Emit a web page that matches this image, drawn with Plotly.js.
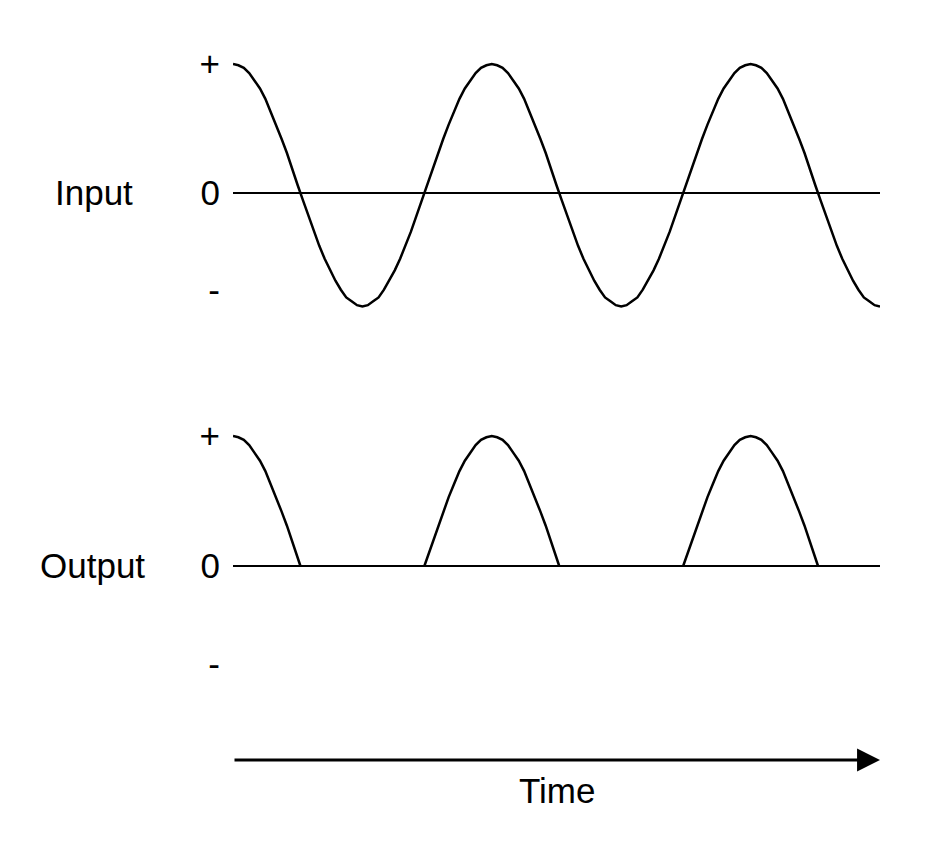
<!DOCTYPE html>
<html>
<head>
<meta charset="utf-8">
<script src="https://cdn.plot.ly/plotly-3.0.1.min.js"></script>
<style>html,body{margin:0;padding:0;background:#fff;}#chart{width:945px;height:841px;}</style>
</head>
<body>
<div id="chart"></div>
<script>
// Phase of the signal in degrees (one period = 360), sampled every 7.5 degrees
const inputTime = [0,7.5,15,22.5,30,37.5,45,52.5,60,67.5,75,82.5,90,97.5,105,112.5,120,127.5,135,142.5,150,157.5,165,172.5,180,
187.5,195,202.5,210,217.5,225,232.5,240,247.5,255,262.5,270,277.5,285,292.5,300,307.5,315,322.5,330,337.5,345,352.5,360,
367.5,375,382.5,390,397.5,405,412.5,420,427.5,435,442.5,450,457.5,465,472.5,480,487.5,495,502.5,510,517.5,525,532.5,540,
547.5,555,562.5,570,577.5,585,592.5,600,607.5,615,622.5,630,637.5,645,652.5,660,667.5,675,682.5,690,697.5,705,712.5,720,
727.5,735,742.5,750,757.5,765,772.5,780,787.5,795,802.5,810,817.5,825,832.5,840,847.5,855,862.5,870,877.5,885,892.5,900];
const inputValue = [1.00,0.99,0.97,0.93,0.87,0.81,0.73,0.63,0.53,0.42,0.31,0.18,0.06,-0.06,-0.18,-0.30,-0.41,-0.51,-0.60,-0.68,-0.75,-0.81,-0.84,-0.87,-0.88,
-0.87,-0.84,-0.81,-0.75,-0.68,-0.60,-0.51,-0.41,-0.30,-0.18,-0.06,0.06,0.18,0.31,0.42,0.53,0.63,0.73,0.81,0.87,0.93,0.97,0.99,1.00,
0.99,0.97,0.93,0.87,0.81,0.73,0.63,0.53,0.42,0.31,0.18,0.06,-0.06,-0.18,-0.30,-0.41,-0.51,-0.60,-0.68,-0.75,-0.81,-0.84,-0.87,-0.88,
-0.87,-0.84,-0.81,-0.75,-0.68,-0.60,-0.51,-0.41,-0.30,-0.18,-0.06,0.06,0.18,0.31,0.42,0.53,0.63,0.73,0.81,0.87,0.93,0.97,0.99,1.00,
0.99,0.97,0.93,0.87,0.81,0.73,0.63,0.53,0.42,0.31,0.18,0.06,-0.06,-0.18,-0.30,-0.41,-0.51,-0.60,-0.68,-0.75,-0.81,-0.84,-0.87,-0.88];
const outputTime = [0,7.5,15,22.5,30,37.5,45,52.5,60,67.5,75,82.5,90,93.8,null,
266.2,270,277.5,285,292.5,300,307.5,315,322.5,330,337.5,345,352.5,360,367.5,375,382.5,390,397.5,405,412.5,420,427.5,435,442.5,450,453.8,null,
626.2,630,637.5,645,652.5,660,667.5,675,682.5,690,697.5,705,712.5,720,727.5,735,742.5,750,757.5,765,772.5,780,787.5,795,802.5,810,813.8];
const outputValue = [1.00,0.99,0.97,0.93,0.87,0.81,0.73,0.63,0.53,0.42,0.31,0.18,0.06,0,null,
0,0.06,0.18,0.31,0.42,0.53,0.63,0.73,0.81,0.87,0.93,0.97,0.99,1.00,0.99,0.97,0.93,0.87,0.81,0.73,0.63,0.53,0.42,0.31,0.18,0.06,0,null,
0,0.06,0.18,0.31,0.42,0.53,0.63,0.73,0.81,0.87,0.93,0.97,0.99,1.00,0.99,0.97,0.93,0.87,0.81,0.73,0.63,0.53,0.42,0.31,0.18,0.06,0];
const levelValues = [1, 0, -0.75];
const levelLabels = ['+', '0', '-'];
const signalNames = ['Input', 'Output'];
const timeLabel = 'Time';

const FONT = 'Liberation Sans, Arial, sans-serif';

const traces = [
  {x: inputTime, y: inputValue, xaxis: 'x', yaxis: 'y', mode: 'lines',
   line: {color: '#000', width: 2.5, shape: 'linear'}, hoverinfo: 'skip'},
  {x: outputTime, y: outputValue, xaxis: 'x', yaxis: 'y2', mode: 'lines', connectgaps: false,
   line: {color: '#000', width: 2.5, shape: 'linear'}, hoverinfo: 'skip'}
];

const yCommon = {
  range: [-1.2, 1.2], showgrid: false, showline: false, ticks: '',
  tickvals: levelValues, ticktext: levelLabels, ticklabelstandoff: 12,
  tickfont: {family: FONT, size: 35, color: '#000'},
  zeroline: true, zerolinecolor: '#000', zerolinewidth: 2.8,
  fixedrange: true, automargin: false
};

const layout = {
  width: 945, height: 841,
  margin: {l: 233, r: 65, t: 0, b: 0},
  paper_bgcolor: '#fff', plot_bgcolor: '#fff',
  showlegend: false,
  font: {family: FONT, size: 35, color: '#000'},
  xaxis: {range: [0, 900], visible: false, fixedrange: true},
  yaxis: Object.assign({}, yCommon, {domain: [0.5865, 0.9546], anchor: 'x'}),
  yaxis2: Object.assign({}, yCommon, {domain: [0.1415, 0.5125], anchor: 'x'}),
  annotations: [
    {text: signalNames[0], xref: 'paper', yref: 'y', x: -0.2148, y: 0, xanchor: 'center', yanchor: 'middle', showarrow: false, font: {family: FONT, size: 35, color: '#000'}},
    {text: signalNames[1], xref: 'paper', yref: 'y2', x: -0.2172, y: 0, xanchor: 'center', yanchor: 'middle', showarrow: false, font: {family: FONT, size: 35, color: '#000'}},
    {text: '', xref: 'paper', yref: 'paper', x: 1, y: 0.0963, ax: -647, ay: 0, axref: 'pixel', ayref: 'pixel',
     showarrow: true, arrowhead: 2, arrowsize: 1.53, arrowwidth: 3, arrowcolor: '#000', standoff: 0, startstandoff: 0},
    {text: timeLabel, xref: 'paper', yref: 'paper', x: 0.5015, y: 0.0595, xanchor: 'center', yanchor: 'middle', showarrow: false, font: {family: FONT, size: 35, color: '#000'}}
  ]
};

Plotly.newPlot('chart', traces, layout, {staticPlot: true, displayModeBar: false});
</script>
</body>
</html>
